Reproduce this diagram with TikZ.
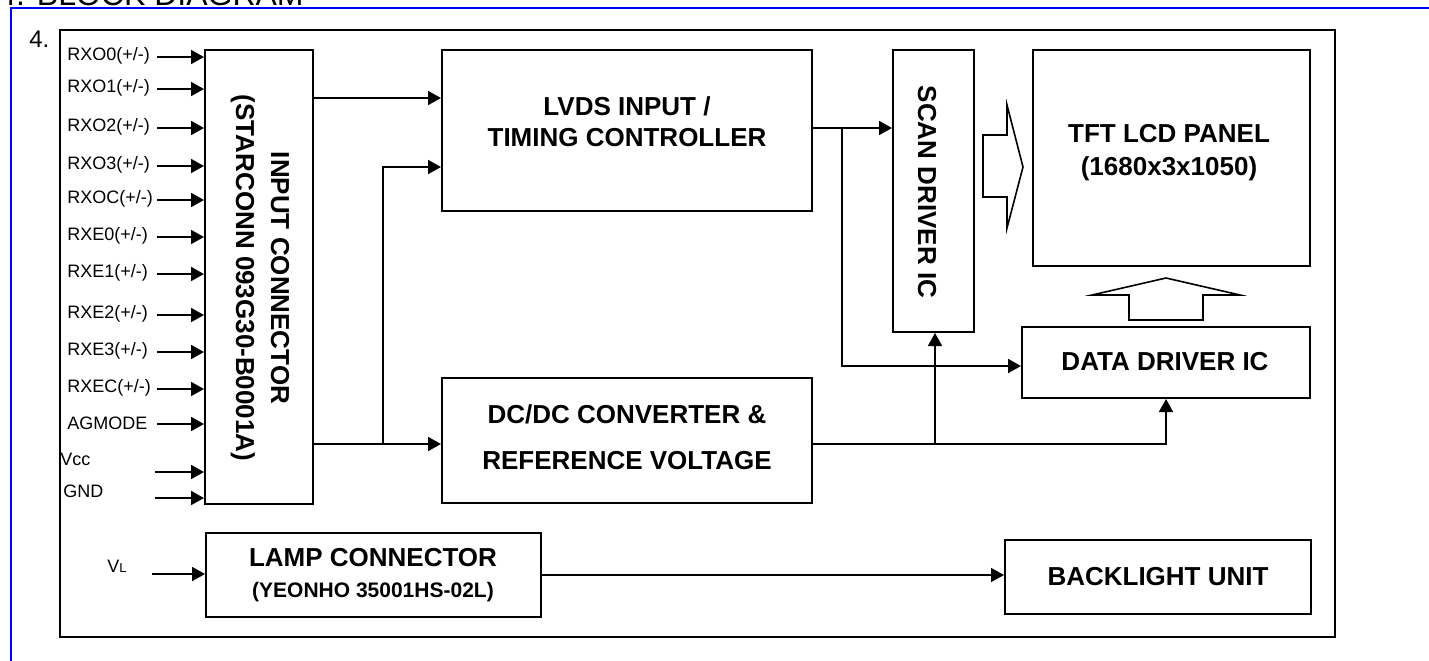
\documentclass[tikz,border=0pt]{standalone}
\usepackage{fontspec}
\setmainfont{Liberation Sans}
\usetikzlibrary{arrows.meta,fit}
\begin{document}
\begin{tikzpicture}[x=0.5pt,y=-0.5pt,
  box/.style={draw, line width=1pt, inner sep=0pt, fit={#1}},
  arr/.style={line width=0.9pt, -{Triangle[length=6.5pt,width=7pt]}},
  lbl/.style={anchor=west, inner sep=0pt, font=\fontsize{9}{11}\selectfont},
  btxt/.style={font=\bfseries\fontsize{13}{15.5}\selectfont, align=center, inner sep=0pt},
  hollow/.style={draw, line width=0.8pt, fill=white, line join=miter}]
\useasboundingbox (0,0) rectangle (1429,660);
% title and frame
\node[anchor=base west, inner sep=0pt, font=\fontsize{16}{19}\selectfont] (title) at (-2,5) {4. BLOCK DIAGRAM};
\draw[blue, line width=1pt] (11,662) -- (11,8) -- (1431,8);
\node[anchor=base west, inner sep=0pt, font=\fontsize{12}{14}\selectfont] (four) at (29,47) {4.};
\node[box={(60,30) (1335,637)}] (outer) {};
% boxes
\node[box={(205,50) (313,504)}] (inbox) {};
\node[box={(442,50) (812,211)}] (lvds) {};
\node[box={(442,378) (812,503)}] (dcdc) {};
\node[box={(893,50) (974,332)}] (scan) {};
\node[box={(1033,50) (1310,266)}] (tft) {};
\node[box={(1022,327) (1310,398)}] (data) {};
\node[box={(206,533) (541,617)}] (lamp) {};
\node[box={(1005,540) (1311,614)}] (bl) {};
% box texts
\node[btxt, rotate=-90, font=\bfseries\fontsize{13}{17.5}\selectfont] (inboxt) at (260,278) {INPUT CONNECTOR\\(STARCONN 093G30-B0001A)};
\node[btxt] (lvdst) at (627,122) {LVDS INPUT /\\TIMING CONTROLLER};
\node[btxt, font=\bfseries\fontsize{13}{23}\selectfont] (dcdct) at (627,437) {DC/DC CONVERTER \&\\REFERENCE VOLTAGE};
\node[btxt, rotate=-90] (scant) at (927,192) {SCAN DRIVER IC};
\node[btxt, font=\bfseries\fontsize{13}{16.5}\selectfont] (tftt) at (1169,153) {TFT LCD PANEL\\(1680x3x1050)};
\node[btxt] (datat) at (1165,362) {DATA DRIVER IC};
\node[btxt, font=\bfseries\fontsize{13}{15.5}\selectfont] (lampt) at (373,575) {LAMP CONNECTOR\\{\fontsize{10.5}{13}\selectfont (YEONHO 35001HS-02L)}};
\node[btxt] (blt) at (1158,577) {BACKLIGHT UNIT};
% hollow arrows
\draw[hollow] (983,135) -- (1007,135) -- (1007,105) -- (1023,167) -- (1007,228) -- (1007,197) -- (983,197) -- cycle;
\draw[hollow] (1129,320) -- (1129,295) -- (1092,295) -- (1166,278) -- (1240,295) -- (1203,295) -- (1203,320) -- cycle;
% input labels
\foreach \n/\t/\y in {l1/{RXO0(+/-)}/57, l2/{RXO1(+/-)}/89, l3/{RXO2(+/-)}/128, l4/{RXO3(+/-)}/166, l5/{RXOC(+/-)}/200, l6/{RXE0(+/-)}/237, l7/{RXE1(+/-)}/274, l8/{RXE2(+/-)}/315, l9/{RXE3(+/-)}/352, l10/{RXEC(+/-)}/389, l11/{AGMODE}/424}{
  \node[lbl] (\n) at (67,\y-1) {\t};
  \coordinate (\n a) at (157,\y);
  \draw[arr] (\n a) -- (\n a -| inbox.west);
}
\node[lbl, anchor=base west] (vcc) at (60,465) {Vcc};
\node[lbl, anchor=base west] (gnd) at (63,497) {GND};
\coordinate (vccin) at (155,472);
\coordinate (gndin) at (155,498);
\draw[arr] (vccin) -- (vccin -| inbox.west);
\draw[arr] (gndin) -- (gndin -| inbox.west);
\node[lbl, anchor=base west] (vl) at (107,572) {V{\fontsize{6.5}{8}\selectfont L}};
\coordinate (vlin) at (152,574);
\draw[arr] (vlin) -- (vlin -| lamp.west);
% connectors
\coordinate (o1) at (313,98);
\draw[arr] (o1) -- (o1 -| lvds.west);
\coordinate (o2) at (313,444);
\draw[arr] (o2) -- (o2 -| dcdc.west);
\coordinate (j2) at (383,444);
\coordinate (j2t) at (383,167);
\draw[arr] (j2) -- (j2t) -- (j2t -| lvds.west);
\coordinate (o3) at (812,128);
\draw[arr] (o3) -- (o3 -| scan.west);
\coordinate (j3) at (842,128);
\coordinate (j3b) at (842,366);
\draw[arr] (j3) -- (j3b) -- (j3b -| data.west);
\coordinate (o4) at (812,444);
\coordinate (j4) at (1166,444);
\draw[arr] (o4) -- (j4) -- (j4 |- data.south);
\coordinate (j5) at (935,444);
\draw[arr] (j5) -- (j5 |- scan.south);
\coordinate (o5) at (541,575);
\draw[arr, line width=0.75pt] (o5) -- (o5 -| bl.west);
\end{tikzpicture}
\end{document}
